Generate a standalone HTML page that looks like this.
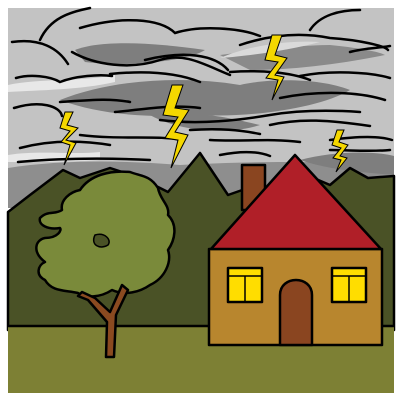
<!DOCTYPE html>
<html><head><meta charset="utf-8"><style>
html,body{margin:0;padding:0;background:#fff;width:400px;height:400px;overflow:hidden}
svg{display:block}
</style></head><body>
<svg width="400" height="400" viewBox="0 0 400 400">
<rect x="0" y="0" width="400" height="400" fill="#fff"/>
<rect x="8" y="8" width="386" height="200" fill="#c3c3c3"/>
<g fill="#7e7e7e">
<path d="M75,50 C100,40 150,42 205,50 C190,60 130,68 85,62 Z"/>
<path d="M60,100 C110,80 180,75 240,85 C270,78 320,78 350,90 C320,108 250,118 200,115 C150,118 100,115 60,100 Z"/>
<path d="M150,115 C200,110 230,118 260,125 C230,135 180,132 150,115 Z"/>
<path d="M220,55 C260,50 300,45 330,45 C360,48 380,52 385,55 C350,62 300,70 250,70 Z" fill="#8a8a8a"/>
<path d="M8,168 C60,160 120,160 180,165 C240,162 300,160 394,165 L394,208 L8,208 Z" fill="#8e8e8e"/>
<path d="M300,160 C330,152 370,150 394,156 L394,175 C360,172 330,170 300,160 Z" fill="#7e7e7e"/>
</g>
<g fill="#e8e8e8">
<path d="M8,85 C40,78 80,82 115,75 L115,82 C80,90 40,90 8,92 Z"/>
<path d="M8,155 C40,150 70,155 100,152 L100,160 C70,162 40,162 8,162 Z"/>
<path d="M220,58 C250,45 290,40 320,42 C290,50 250,56 220,58 Z" fill="#dadada"/>
</g>
<g fill="none" stroke="#000" stroke-width="2.5" stroke-linecap="round">
<path d="M90,8 C70,12 50,18 40,40"/><path d="M12,42 C40,38 58,48 68,64"/>
<path d="M80,28 C120,16 160,18 175,33 C200,25 240,28 260,36"/>
<path d="M240,45 C270,35 300,32 330,38 C360,40 385,46 388,50"/>
<path d="M310,30 C320,15 340,10 360,10"/>
<path d="M72,52 C95,65 130,70 160,60 C185,52 205,65 230,75"/>
<path d="M145,60 C185,50 215,55 228,70"/>
<path d="M230,72 C260,70 290,72 310,80"/>
<path d="M350,52 C365,48 380,48 390,46"/>
<path d="M16,78 C30,74 50,76 60,82 C75,76 100,74 112,76"/>
<path d="M110,74 C150,70 180,74 200,82"/>
<path d="M14,108 C40,100 60,106 62,116"/>
<path d="M60,102 C90,100 110,98 130,102"/>
<path d="M115,112 C140,110 170,104 200,108"/>
<path d="M160,120 C200,125 240,120 270,115 C300,110 330,110 360,112"/>
<path d="M280,98 C320,90 360,92 385,100"/>
<path d="M300,76 C330,70 370,72 390,78"/>
<path d="M20,148 C50,140 80,140 110,145"/>
<path d="M80,135 C120,140 160,135 180,140"/>
<path d="M190,130 C220,128 240,130 260,134"/>
<path d="M210,140 C240,142 270,138 300,142"/>
<path d="M270,125 C300,118 330,120 370,126"/>
<path d="M330,140 C360,136 380,136 392,140"/>
<path d="M18,162 C60,158 110,158 150,160"/>
<path d="M220,155 C245,150 260,152 270,156"/>
<path d="M330,150 C350,150 370,152 390,150"/>
</g>
<g fill="#f5d800" stroke="#000" stroke-width="1">
<path d="M65,112 L73,112 L67,125 L78,128 L66,140 L76,143 L64,165 L70,145 L61,142 L70,131 L60,128 Z"/>
<path d="M172,85 L183,85 L175,108 L189,110 L175,132 L188,135 L171,168 L178,140 L165,138 L178,117 L163,115 Z"/>
<path d="M272,35 L282,35 L275,55 L287,58 L275,75 L284,77 L272,100 L278,80 L266,78 L278,62 L265,60 Z"/>
<path d="M337,130 L344,130 L339,142 L348,145 L340,156 L347,158 L336,172 L341,160 L333,158 L341,148 L332,145 Z"/>
</g>
<path d="M8,212 L30,195 L63,170 L80,178 L110,168 L140,178 L168,192 L200,153 L228,195 L248,188 L262,200 L290,168 L330,185 L350,168 L368,178 L394,176 L394,330 L8,330 Z" fill="#4a5226" stroke="#000" stroke-width="2.5" stroke-linejoin="round"/>
<rect x="8" y="326" width="386" height="67" fill="#7d8034"/>
<line x1="8" y1="326" x2="394" y2="326" stroke="#000" stroke-width="2.5"/>
<g stroke="#000" stroke-width="2.5" stroke-linejoin="round">
<path d="M80,190 C90,175 110,170 130,172 C140,176 150,175 158,188 C160,200 170,205 168,215 C178,225 175,240 168,250 C172,262 165,278 150,285 C140,292 125,296 112,290 C100,298 85,298 78,293 C65,290 52,292 45,280 C35,275 38,265 45,262 C32,252 35,240 45,238 C58,238 62,230 60,228 C48,230 38,225 40,218 C48,210 55,215 62,210 C60,200 70,192 80,190 Z" fill="#7a8a3a"/>
<path d="M95,235 C105,232 112,240 108,245 C100,250 90,245 95,235 Z" fill="#4a5226" stroke-width="1.5"/>
<path d="M106,357 L107,322 L88,300 L78,296 L82,292 L95,298 L110,312 L122,285 L128,290 L116,315 L114,357 Z" fill="#8a4a20"/>
</g>
<g stroke="#000" stroke-width="2.5" stroke-linejoin="round">
<rect x="242" y="165" width="23" height="45" fill="#8a4520"/>
<rect x="209" y="249" width="173" height="96" fill="#b8862e"/>
<path d="M295,155 L381,249 L211,249 Z" fill="#b01f28"/>
<path d="M280,345 L280,295 C280,275 312,275 312,295 L312,345 Z" fill="#8a4520"/>
<g fill="#ffdd00">
<rect x="228" y="268" width="34" height="34"/>
<line x1="228" y1="276" x2="262" y2="276" stroke-width="1.5"/>
<line x1="245" y1="276" x2="245" y2="302" stroke-width="1.5"/>
</g>
<g fill="#ffdd00">
<rect x="332" y="268" width="34" height="34"/>
<line x1="332" y1="276" x2="366" y2="276" stroke-width="1.5"/>
<line x1="349" y1="276" x2="349" y2="302" stroke-width="1.5"/>
</g>
</g>
</svg>
</body></html>
